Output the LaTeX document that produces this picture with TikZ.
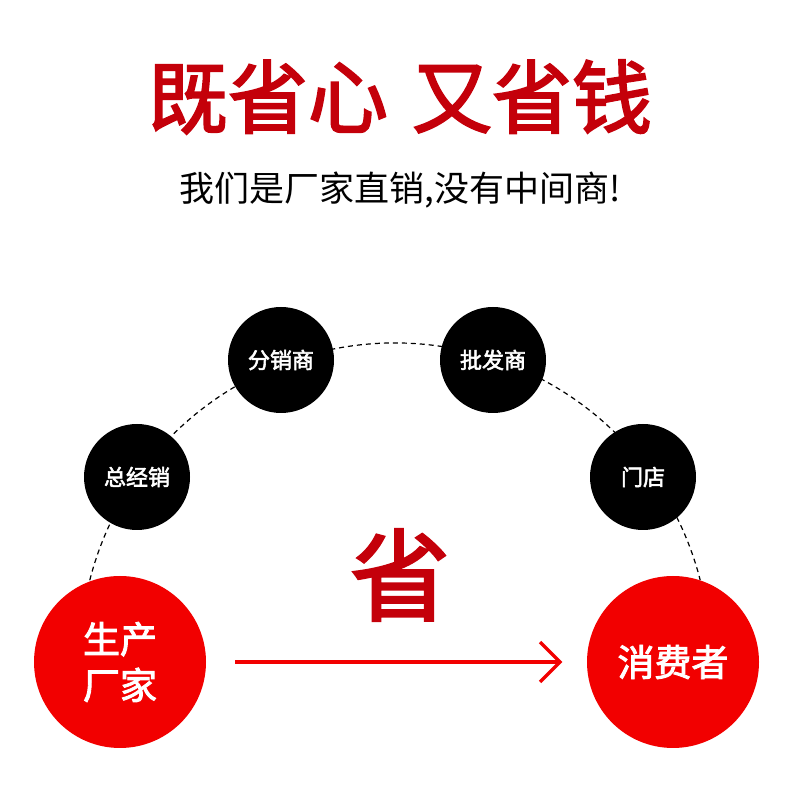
\documentclass[tikz,border=0pt]{standalone}
\usepackage{fontspec}
\newfontfamily\cjk[AutoFakeBold=2.5]{Noto Sans CJK SC}
\definecolor{darkred}{HTML}{C4000A}
\definecolor{brightred}{HTML}{F20000}
\tikzset{
  blackc/.style={circle,fill=black,minimum size=106pt,inner sep=0pt,text=white,font=\cjk\bfseries\fontsize{22}{24}\selectfont},
  redc/.style={circle,fill=brightred,minimum size=172pt,inner sep=0pt,text=white,font=\cjk\bfseries\fontsize{37}{46}\selectfont,align=center},
}
\begin{document}
\begin{tikzpicture}[x=1pt,y=1pt]
\useasboundingbox (0,0) rectangle (800,800);
\node (title) at (400,703) {\cjk\bfseries\fontsize{80}{80}\selectfont\color{darkred}既省心\hspace{0.3em}又省钱};
\node (sub) at (400,610) {\cjk\fontsize{35}{35}\selectfont 我们是厂家直销,没有中间商!};
\draw[dashed,line width=1.2pt,dash pattern=on 5pt off 4pt] (395,142) ++(165.7:315) arc[start angle=165.7,end angle=14.3,radius=315];
\node[blackc] (a) at (137,323) {总经销};
\node[blackc] (b) at (281,440) {分销商};
\node[blackc] (c) at (493,440) {批发商};
\node[blackc] (d) at (643,323) {门店};
\node[redc] (m) at (120,138) {生产\\厂家};
\node[redc] (u) at (673,138) {消费者};
\node (s) at (400,225) {\cjk\bfseries\fontsize{100}{100}\selectfont\color{darkred}省};
\coordinate (e) at (560,138);
\draw[brightred,line width=3.5pt] (235,138) -- (e);
\draw[brightred,line width=3.5pt,line join=miter] (540,158) -- (e) -- (540,118);
\end{tikzpicture}
\end{document}
